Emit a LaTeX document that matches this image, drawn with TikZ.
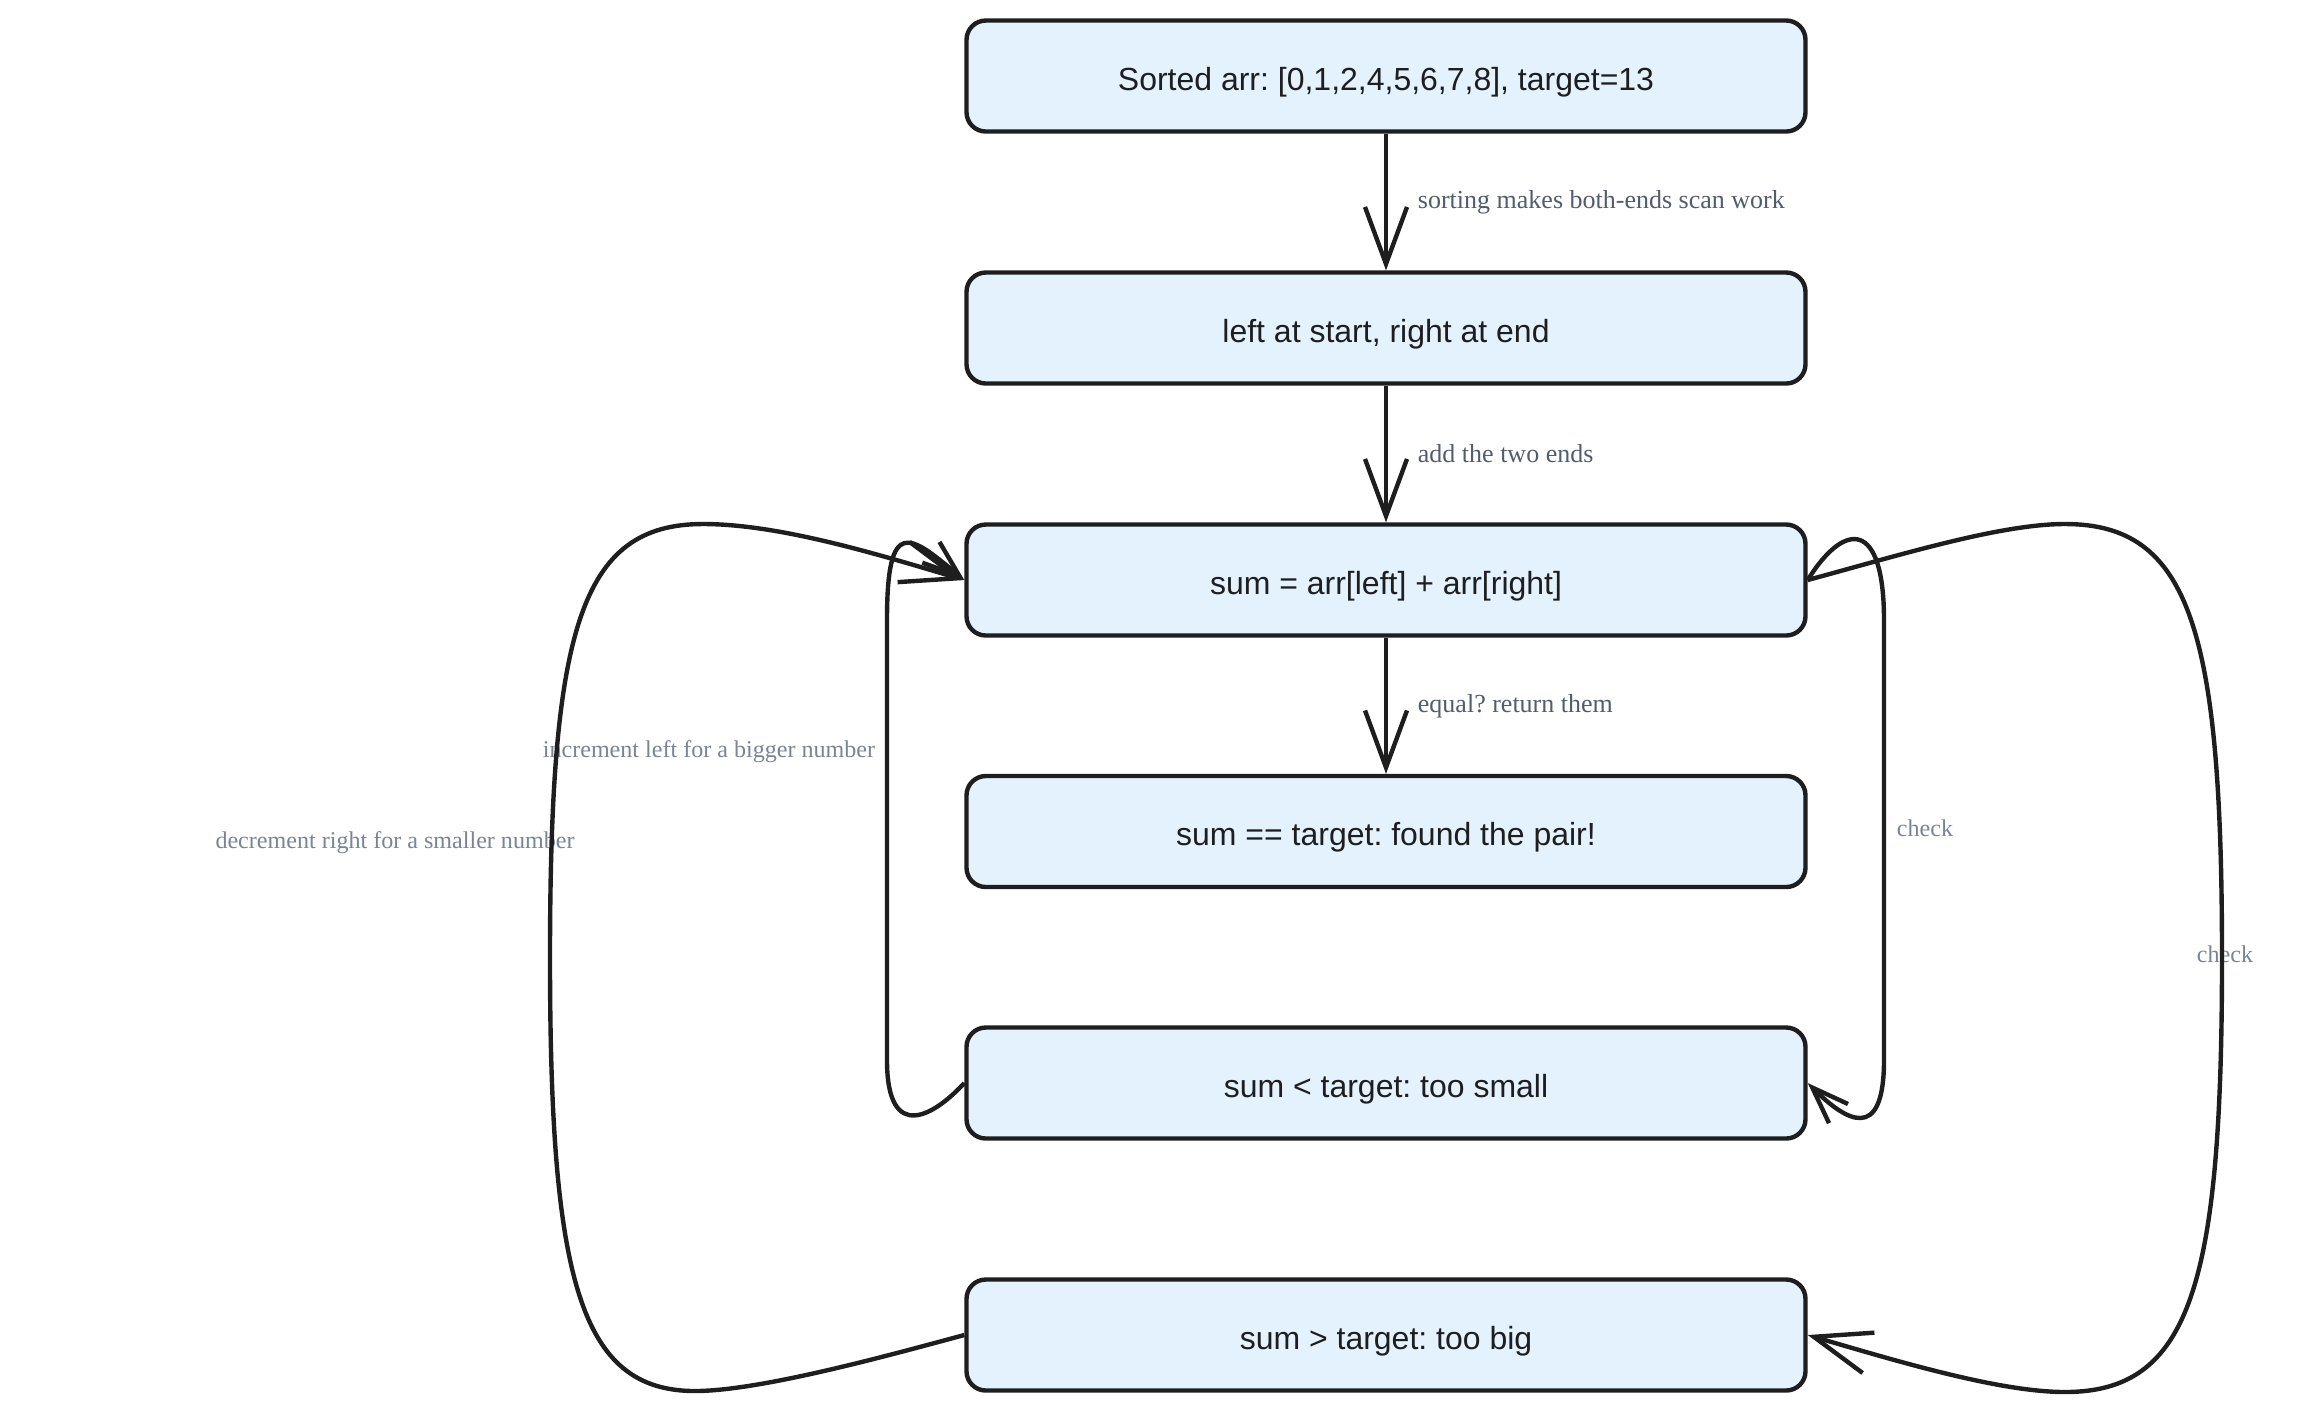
\documentclass[tikz,border=0pt]{standalone}
\usepackage{fontspec}
\setmainfont{Liberation Serif}
\setsansfont{Liberation Sans}
\frenchspacing
\usetikzlibrary{arrows.meta, positioning}
\definecolor{cblue}{HTML}{E3F2FD}
\definecolor{cink}{HTML}{1E1E1E}
\definecolor{cslate}{HTML}{535C6E}
\definecolor{cmist}{HTML}{7A8496}
\tikzset{
  every picture/.style={line width=1.25pt},
  box/.style={draw=cink, fill=cblue, rounded corners=5.5pt, align=center, minimum width=8.39cm, minimum height=1.11cm,
              text height=0.85em, text depth=0.05em, text=cink, font=\sffamily\fontsize{9.1}{11}\selectfont},
  arrow/.style={-{Straight Barb[length=5.7mm, width=4.2mm]}, draw=cink, line width=1.25pt},
  shortarrow/.style={arrow, -{Straight Barb[length=3.7mm, width=2.7mm]}},
  note/.style={font=\rmfamily\fontsize{7.4}{9}\selectfont, text=cslate},
  loopnote/.style={font=\rmfamily\fontsize{6.85}{8}\selectfont, text=cmist},
}

\begin{document}
\begin{tikzpicture}
  \useasboundingbox (0,0) rectangle (23.2,-14.13);
  % steps, top to bottom
  \foreach \n/\y/\t in {sorted/-0.76/{Sorted arr: [0,1,2,4,5,6,7,8], target=13},
      ends/-3.28/{left at start, right at end},
      sum/-5.80/{sum = arr[left] + arr[right]},
      found/-8.315/{sum == target: found the pair!},
      small/-10.83/{sum < target: too small},
      big/-13.35/{sum > target: too big}}
    \node[box] (\n) at (13.86,\y) {\t};
  % straight chain
  \draw[arrow] (sorted) -- (ends) node[note, midway, right=0.18cm] {sorting makes both-ends scan work};
  \draw[arrow] (ends) -- (sum) node[note, midway, right=0.18cm] {add the two ends};
  \draw[arrow] (sum) -- (found) node[note, midway, right=0.18cm] {equal? return them};
  % loop labels
  \node[loopnote] (inc) at (7.09,-7.52) {increment left for a bigger number};
  \node[loopnote] (dec) at (3.95,-8.43) {decrement right for a smaller number};
  \node[loopnote] (chksmall) at (19.25,-8.28) {check};
  \node[loopnote] (chkbig) at (22.25,-9.54) {check};
  % right loops: sum -> small, sum -> big
  \draw[shortarrow] (sum.east) .. controls (18.45,-5.2) and (18.84,-5.2) .. (18.84,-6.2)
    -- (18.84,-10.6) .. controls (18.84,-11.45) and (18.45,-11.2) .. (small.east);
  \draw[arrow] (sum.east) .. controls (19.0,-5.55) and (20.0,-5.24) .. (20.65,-5.24)
    .. controls (21.9,-5.24) and (22.22,-6.3) .. (22.22,-9.58)
    .. controls (22.22,-12.86) and (21.9,-13.92) .. (20.65,-13.92)
    .. controls (20.0,-13.92) and (19.0,-13.62) .. (big.east);
  % left loops back to sum
  \draw[shortarrow] (small.west) .. controls (9.35,-11.15) and (8.87,-11.45) .. (8.87,-10.6) -- (8.87,-6.2)
    .. controls (8.87,-5.15) and (9.1,-5.35) .. (sum.west);
  \draw[arrow] (big.west) .. controls (8.9,-13.55) and (7.6,-13.91) .. (6.95,-13.91)
    .. controls (5.8,-13.91) and (5.50,-12.8) .. (5.50,-9.58)
    .. controls (5.50,-6.3) and (5.8,-5.24) .. (7.03,-5.24)
    .. controls (7.8,-5.24) and (8.8,-5.55) .. (sum.west);
\end{tikzpicture}
\end{document}
